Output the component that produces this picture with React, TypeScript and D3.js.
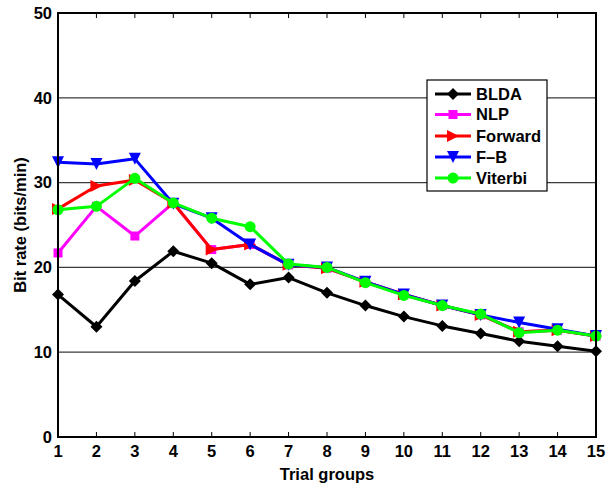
import React from "react";
import * as d3 from "d3";

const groups = [1, 2, 3, 4, 5, 6, 7, 8, 9, 10, 11, 12, 13, 14, 15];
const bldaValues = [16.8, 13.0, 18.4, 21.9, 20.5, 18.0, 18.8, 17.0, 15.5, 14.2, 13.1, 12.2, 11.3, 10.7, 10.1];
const nlpValues = [21.7, 27.2, 23.7, 27.6, 22.1, 22.7, 20.3, 19.9, 18.3, 16.8, 15.5, 14.4, 12.4, 12.6, 11.9];
const forwardValues = [26.9, 29.6, 30.3, 27.6, 22.1, 22.7, 20.3, 19.9, 18.3, 16.8, 15.5, 14.4, 12.4, 12.6, 11.9];
const fbValues = [32.4, 32.2, 32.8, 27.5, 25.8, 22.7, 20.3, 20.0, 18.3, 16.8, 15.5, 14.4, 13.5, 12.7, 11.9];
const viterbiValues = [26.8, 27.2, 30.5, 27.6, 25.8, 24.8, 20.4, 20.0, 18.2, 16.7, 15.5, 14.5, 12.3, 12.6, 11.9];
const yTicks = [0, 10, 20, 30, 40, 50];
const seriesNames = ["BLDA", "NLP", "Forward", "F\u2013B", "Viterbi"];

type Series = { name: string; values: number[]; color: string; marker: string };

const series: Series[] = [
  { name: seriesNames[0], values: bldaValues, color: "#000000", marker: "diamond" },
  { name: seriesNames[1], values: nlpValues, color: "#ff00ff", marker: "square" },
  { name: seriesNames[2], values: forwardValues, color: "#ff0000", marker: "triRight" },
  { name: seriesNames[3], values: fbValues, color: "#0000ff", marker: "triDown" },
  { name: seriesNames[4], values: viterbiValues, color: "#00ff00", marker: "circle" },
];

const W = 613;
const H = 485;
const left = 58;
const right = 596;
const top = 13;
const bottom = 437;

const x = d3.scaleLinear().domain([1, 15]).range([left, right]);
const y = d3.scaleLinear().domain([0, 50]).range([bottom, top]);

function Marker({ type, cx, cy, color }: { type: string; cx: number; cy: number; color: string }) {
  if (type === "diamond") {
    const s = 6;
    return <path d={`M${cx},${cy - s}L${cx + s},${cy}L${cx},${cy + s}L${cx - s},${cy}Z`} fill={color} />;
  }
  if (type === "square") {
    const s = 4.5;
    return <rect x={cx - s} y={cy - s} width={2 * s} height={2 * s} fill={color} />;
  }
  if (type === "triRight") {
    const s = 6;
    return <path d={`M${cx + s},${cy}L${cx - s},${cy - s}L${cx - s},${cy + s}Z`} fill={color} />;
  }
  if (type === "triDown") {
    const s = 6;
    return <path d={`M${cx},${cy + s}L${cx - s},${cy - s}L${cx + s},${cy - s}Z`} fill={color} />;
  }
  return <circle cx={cx} cy={cy} r={5.5} fill={color} />;
}

export default function App() {
  const line = d3
    .line<number>()
    .x((_, i) => x(groups[i]))
    .y((d) => y(d));
  const font = "'Liberation Sans', Arial, Helvetica, sans-serif";
  const fs = 16.5;
  const legX = 427;
  const legY = 80;
  const legW = 120;
  const legH = 111;
  const legRows = [94, 114.5, 136, 157, 178];
  return (
    <svg width={W} height={H} style={{ position: "absolute", left: 0, top: 0 }} fontFamily={font}>
      <rect x={0} y={0} width={W} height={H} fill="#fff" />
      {yTicks.slice(1, -1).map((t) => (
        <line key={t} x1={left} x2={right} y1={y(t)} y2={y(t)} stroke="#3a3a3a" strokeWidth={1.2} />
      ))}
      {groups.slice(1, -1).map((g) => (
        <g key={g}>
          <line x1={x(g)} x2={x(g)} y1={bottom} y2={bottom - 5} stroke="#000" strokeWidth={1} />
          <line x1={x(g)} x2={x(g)} y1={top} y2={top + 5} stroke="#000" strokeWidth={1} />
        </g>
      ))}
      {series.map((s) => (
        <g key={s.name}>
          <path d={line(s.values) || ""} fill="none" stroke={s.color} strokeWidth={3} strokeLinejoin="round" />
          {s.values.map((v, i) => (
            <Marker key={i} type={s.marker} cx={x(groups[i])} cy={y(v)} color={s.color} />
          ))}
        </g>
      ))}
      <rect x={left} y={top} width={right - left} height={bottom - top} fill="none" stroke="#000" strokeWidth={2} />
      {yTicks.map((t) => (
        <text key={t} x={left - 6} y={y(t)} dy="0.35em" textAnchor="end" fontSize={fs} fontWeight="bold">
          {t}
        </text>
      ))}
      {groups.map((g) => (
        <text key={g} x={x(g)} y={457} textAnchor="middle" fontSize={fs} fontWeight="bold">
          {g}
        </text>
      ))}
      <text x={(left + right) / 2} y={480} textAnchor="middle" fontSize={fs} fontWeight="bold">
        Trial groups
      </text>
      <text
        transform={`translate(26,${(top + bottom) / 2}) rotate(-90)`}
        textAnchor="middle"
        fontSize={fs}
        fontWeight="bold"
      >
        Bit rate (bits/min)
      </text>
      <rect x={legX} y={legY} width={legW} height={legH} fill="#fff" stroke="#000" strokeWidth={1.2} />
      {series.map((s, i) => (
        <g key={s.name}>
          <line x1={435} x2={471} y1={legRows[i]} y2={legRows[i]} stroke={s.color} strokeWidth={3} />
          <Marker type={s.marker} cx={453} cy={legRows[i]} color={s.color} />
          <text x={476} y={legRows[i]} dy="0.35em" fontSize={fs} fontWeight="bold">
            {s.name}
          </text>
        </g>
      ))}
    </svg>
  );
}
